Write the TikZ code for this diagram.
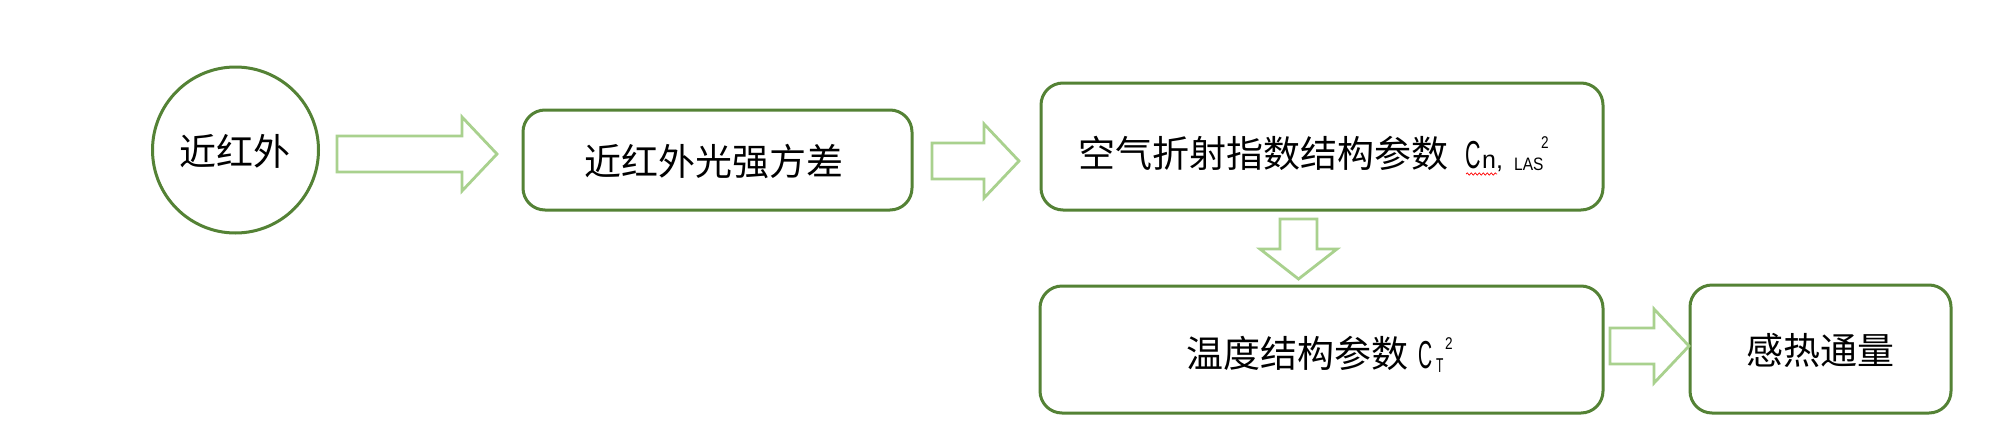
\documentclass[tikz,border=0pt]{standalone}
\usepackage{fontspec}
\usepackage{graphicx}
\usetikzlibrary{decorations.pathmorphing}
\newfontfamily\cjk{Noto Sans CJK SC}
\newfontfamily\latf{Liberation Sans}
\definecolor{boxgreen}{HTML}{548235}
\definecolor{arrgreen}{HTML}{A9D18E}
% right block arrow: start x, tip x, centre y
\newcommand\rarrow[3]{\draw[barrow] (#1,#3-18) -- (#2-35,#3-18) -- (#2-35,#3-37) -- (#2,#3) -- (#2-35,#3+37) -- (#2-35,#3+18) -- (#1,#3+18) -- cycle;}
% down block arrow: centre x, start y, tip y
\newcommand\darrow[3]{\draw[barrow] (#1-18.5,#2) -- (#1+18.5,#2) -- (#1+18.5,#3-30) -- (#1+38.5,#3-30) -- (#1,#3) -- (#1-38.5,#3-30) -- (#1-18.5,#3-30) -- cycle;}
\newcommand\ltxt[3]{\scalebox{#1}[1]{\latf\fontsize{#2}{#2}\selectfont #3}}
\begin{document}
\begin{tikzpicture}[x=1pt,y=-1pt,
  box/.style={draw=boxgreen,line width=3pt,rounded corners=22pt,inner sep=0pt,fill=white},
  circ/.style={circle,draw=boxgreen,line width=3pt,minimum size=166pt,inner sep=0pt,fill=white},
  barrow/.style={draw=arrgreen,line width=2.8pt,fill=white},
  cjktxt/.style={font=\cjk\fontsize{37}{37}\selectfont,anchor=base west,inner sep=0pt},
  lattxt/.style={anchor=base west,inner sep=0pt}]
\fill[white] (0,0) rectangle (2014,445);
\useasboundingbox (0,0) rectangle (2014,445);

\node[circ] (c) at (235.5,150) {};
\node[box,minimum width=389pt,minimum height=100pt] (b1) at (717.5,160) {};
\node[box,minimum width=562pt,minimum height=127pt] (b2) at (1322,146.5) {};
\node[box,minimum width=563pt,minimum height=127pt] (b3) at (1321.5,349.5) {};
\node[box,minimum width=261pt,minimum height=128pt] (b4) at (1820.5,349) {};

% block arrows
\rarrow{337}{497}{154}
\rarrow{932}{1019}{161}
\darrow{1298.5}{219}{279}
\rarrow{1610}{1689}{346}

% texts
\node[cjktxt] (t0) at (179,165) {近红外};
\node[cjktxt] (t1) at (584,175) {近红外光强方差};
\node[cjktxt] (t2) at (1078,167) {空气折射指数结构参数};
\node[lattxt] (t2c) at (1465,168) {\ltxt{0.55}{39}{C}};
\node[lattxt] (t2n) at (1482,168) {\ltxt{1}{25}{n,}};
\node[lattxt] (t2l) at (1514,170) {\ltxt{0.86}{18}{LAS}};
\node[lattxt] (t2s) at (1541,148) {\ltxt{0.8}{17}{2}};
\draw[red,line width=0.7pt,decorate,decoration={snake,segment length=4pt,amplitude=1.1pt}] (1466,174) -- (1497,174);
\node[cjktxt] (t3) at (1186,367) {温度结构参数};
\node[lattxt] (t3c) at (1418,368) {\ltxt{0.5}{39}{C}};
\node[lattxt] (t3t) at (1436,372) {\ltxt{0.6}{20}{T}};
\node[lattxt] (t3s) at (1445,349) {\ltxt{0.8}{17}{2}};
\node[cjktxt] (t4) at (1746,364) {感热通量};
\end{tikzpicture}
\end{document}
